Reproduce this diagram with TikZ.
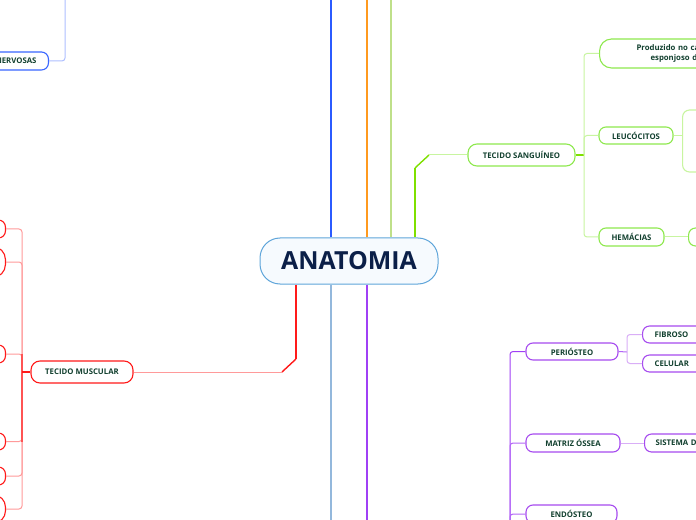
\documentclass[tikz,border=0pt]{standalone}
\usepackage{fontspec}
\setmainfont{Open Sans}
\definecolor{cblue}{HTML}{2B5BFF}
\definecolor{cbluelt}{HTML}{AFC0FF}
\definecolor{cbluebd}{HTML}{3A66FF}
\definecolor{corange}{HTML}{FF9A1F}
\definecolor{colive}{HTML}{BFE08A}
\definecolor{cgreen}{HTML}{7FE000}
\definecolor{cgreenlt}{HTML}{C8F5A0}
\definecolor{cgreenbd}{HTML}{8EE84E}
\definecolor{cred}{HTML}{FF1A1A}
\definecolor{credlt}{HTML}{FF9A9A}
\definecolor{csteel}{HTML}{93B8DC}
\definecolor{cpurple}{HTML}{A040F5}
\definecolor{cpurplelt}{HTML}{D9AEF7}
\definecolor{cpurplebd}{HTML}{A64BEF}
\definecolor{rootbd}{HTML}{5FA5DA}
\definecolor{rootfill}{HTML}{F6FAFE}
\definecolor{txt}{HTML}{12402F}
\definecolor{roottxt}{HTML}{0B1F48}
\begin{document}
\begin{tikzpicture}[x=1bp,y=-1bp,
  box/.style={draw, line width=1.1bp, rounded corners=7bp, fill=white,
    font=\bfseries\fontsize{7.8}{11}\selectfont, text=txt, inner sep=0pt,
    minimum height=18bp},
  gbox/.style={box, draw=cgreenbd},
  rbox/.style={box, draw=cred},
  pbox/.style={box, draw=cpurplebd},
  mainline/.style={line width=2.3bp},
  thin/.style={line width=1bp, rounded corners=3bp}]
\useasboundingbox (0,0) rectangle (696,520);
\fill[white] (0,0) rectangle (696,520);
\clip (0,0) rectangle (696,520);

% root
\node[draw=rootbd, fill=rootfill, line width=1bp, rounded corners=20bp,
  minimum width=178bp, minimum height=46bp, inner sep=0pt,
  font=\bfseries\fontsize{25}{30}\selectfont, text=roottxt] (ana) at (349,261) {ANATOMIA};

% top-left blue branch
\node[box, draw=cbluebd, anchor=east, text width=80bp, align=right, inner xsep=12bp] (nerv) at (49,61) {NERVOSAS};
\coordinate (nervtop) at (65,0);
\draw[thin, cbluelt] (nerv.east) -| (nervtop);

% main lines up
\coordinate (topB) at (331,0);
\coordinate (topO) at (367,0);
\coordinate (topL) at (391,0);
\draw[mainline, cblue] (ana.north -| topB) -- (topB);
\draw[mainline, corange] (ana.north -| topO) -- (topO);
\draw[mainline, colive] (ana.north -| topL) -- (topL);

% main lines down
\coordinate (botS) at (331,520);
\coordinate (botP) at (367,520);
\draw[mainline, csteel] (ana.south -| botS) -- (botS);
\draw[mainline, cpurple] (ana.south -| botP) -- (botP);

% green: tecido sanguineo
\node[gbox, minimum width=107bp, minimum height=22bp, rounded corners=9bp] (ts) at (521.5,155) {TECIDO SANGU\'INEO};
\coordinate (gbend) at (415,168);
\coordinate (gdiag) at (429,155);
\draw[cgreen, line width=2.7bp] (ana.north -| gbend) -- (gbend);
\draw[cgreen, line width=1.4bp] (gbend) -- (gdiag);
\draw[cgreenlt, line width=1bp] (gdiag) -- (ts.west);

\node[gbox, anchor=west, minimum height=29bp, rounded corners=12bp, text width=150bp, align=left, inner xsep=37bp] (prod) at (599,53.5) {Produzido no canal\\\hspace*{14bp}esponjoso dos ossos};
\node[gbox, minimum width=74bp, minimum height=17bp] (leu) at (636,135.5) {LEUC\'OCITOS};
\node[box, draw=cgreenlt, anchor=west, minimum width=80bp, minimum height=62bp] (leubox) at (682,141) {};
\node[gbox, minimum width=65bp] (hem) at (631.5,237) {HEM\'ACIAS};
\node[gbox, anchor=west, minimum width=60bp] (hemc) at (688,237) {};

\coordinate (gbus) at (584,155);
\draw[cgreen, line width=1.4bp] (ts.east) -- (gbus);
\draw[thin, cgreenlt] (gbus) |- (prod.west);
\draw[thin, cgreenlt] (gbus) |- (leu.west);
\draw[thin, cgreenlt] (gbus) |- (hem.west);
\draw[thin, cgreenlt] (leu.east) -- (leu.east -| leubox.west);
\draw[thin, cgreenlt] (hem.east) -- (hemc.west);

% red: tecido muscular
\node[rbox, minimum width=102bp, minimum height=22bp, rounded corners=9bp] (tm) at (82,372) {TECIDO MUSCULAR};
\coordinate (rbend) at (296,359);
\coordinate (rdiag) at (282,372);
\draw[cred, line width=2.7bp] (ana.south -| rbend) -- (rbend);
\draw[cred, line width=1.4bp] (rbend) -- (rdiag);
\draw[credlt, line width=1bp] (rdiag) -- (tm.east);

\node[rbox, anchor=east, minimum width=80bp] (m1) at (6,229) {};
\node[rbox, anchor=east, minimum width=80bp, minimum height=31bp, rounded corners=13bp] (m2) at (6,262) {};
\node[rbox, anchor=east, minimum width=80bp] (m3) at (6,354) {};
\node[rbox, anchor=east, minimum width=80bp, minimum height=17bp] (m4) at (6,441.5) {};
\node[rbox, anchor=east, minimum width=80bp] (m5) at (6,476) {};
\node[rbox, anchor=east, minimum width=80bp, minimum height=28bp, rounded corners=12bp] (m6) at (6,509) {};

\coordinate (rbus) at (22,372);
\foreach \c in {m1,m2,m3,m4,m5,m6} \draw[thin, credlt] (rbus) |- (\c.east);
\draw[cred!75, line width=1.2bp] (rbus |- m3.east) -- (rbus |- m4.east);
\draw[cred, line width=1.4bp] (tm.west) -- (rbus);

% purple: bones
\node[pbox, minimum width=92bp, minimum height=17bp] (peri) at (572,351.5) {PERI\'OSTEO};
\node[pbox, minimum width=94bp] (mo) at (573,443) {MATRIZ \'OSSEA};
\node[pbox, minimum width=91bp] (endo) at (571.5,514) {END\'OSTEO};
\coordinate (pbus) at (510,540);
\draw[thin, cpurple] (pbus) |- (peri.west);
\draw[thin, cpurple!80] (pbus) |- (mo.west);
\draw[thin, cpurple!80] (pbus) |- (endo.west);

\node[pbox, anchor=west, text width=50bp, align=left, inner xsep=12bp, minimum height=17bp] (fib) at (642,334.5) {FIBROSO};
\node[pbox, anchor=west, text width=50bp, align=left, inner xsep=12bp, minimum height=17bp] (cel) at (642,363.5) {CELULAR};
\node[pbox, anchor=west, text width=100bp, align=left, inner xsep=11bp] (sis) at (644,443) {SISTEMA DE HAVERS};

\coordinate (pbus2) at (627,352);
\draw[thin, cpurple!80] (peri.east) -- (pbus2);
\draw[thin, cpurplelt] (pbus2) |- (fib.west);
\draw[thin, cpurplelt] (pbus2) |- (cel.west);
\draw[thin, cpurplelt] (mo.east) -- (sis.west);
\end{tikzpicture}
\end{document}
